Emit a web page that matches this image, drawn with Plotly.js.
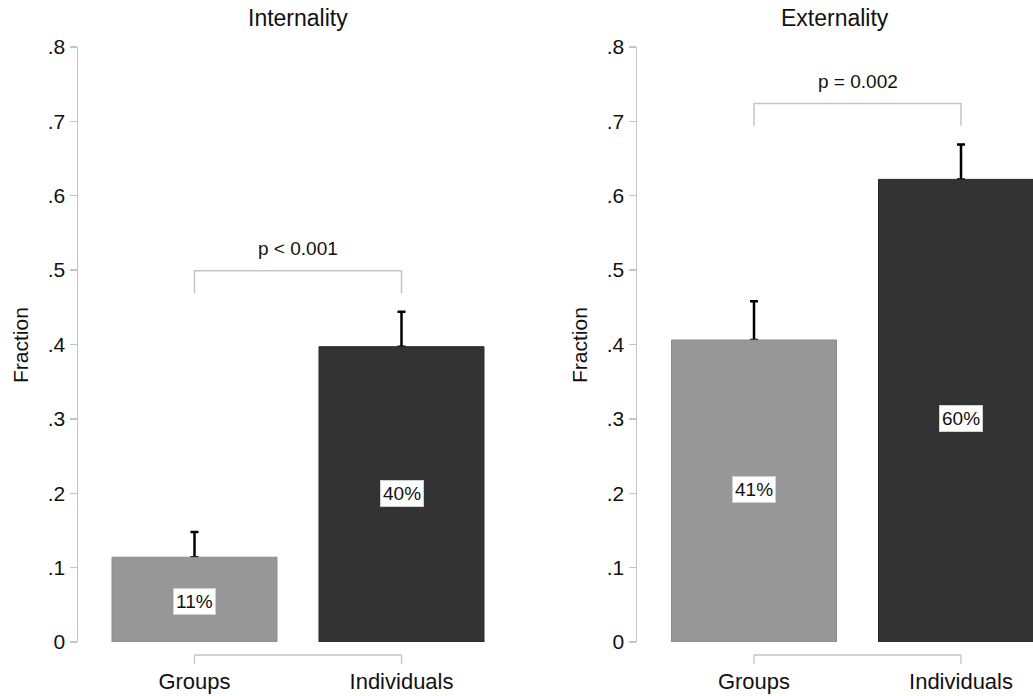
<!DOCTYPE html>
<html>
<head>
<meta charset="utf-8">
<script src="https://cdn.plot.ly/plotly-3.0.1.min.js"></script>
<style>html,body{margin:0;padding:0;background:#fff;}#chart{width:1033px;height:696px;}</style>
</head>
<body>
<div id="chart"></div>
<script>
// ---- data ----
const categories = ["Groups", "Individuals"];
const panelTitles = ["Internality", "Externality"];
const internalityValues = [0.114, 0.397];
const internalityErrors = [0.034, 0.047];
const internalityLabels = [11, 40];
const externalityValues = [0.406, 0.622];
const externalityErrors = [0.052, 0.047];
const externalityLabels = [41, 60];
const pValueTexts = ["p < 0.001", "p = 0.002"];
const yTickValues = [0, 0.1, 0.2, 0.3, 0.4, 0.5, 0.6, 0.7, 0.8];
const yTickLabels = ["0", ".1", ".2", ".3", ".4", ".5", ".6", ".7", ".8"];
const yTitle = "Fraction";

// ---- style ----
const FONT = "Liberation Sans, Arial, sans-serif";
const barColors = ["#979797", "#333333"];
const barLines = ["#8a8a8a", "#262626"];
const axisGray = "#c4c4c4";
const textColor = "#111111";
const idx = categories.map((c, i) => i);

const panels = [
  {vals: internalityValues, errs: internalityErrors, labs: internalityLabels, xa: "x", ya: "y"},
  {vals: externalityValues, errs: externalityErrors, labs: externalityLabels, xa: "x2", ya: "y2"}
];

const traces = [];
panels.forEach(p => {
  // error bars (drawn first, so the real bars hide the lower cap)
  traces.push({
    type: "bar", x: idx, y: p.vals, xaxis: p.xa, yaxis: p.ya, width: 0.797,
    marker: {color: "rgba(0,0,0,0)", line: {width: 0}},
    error_y: {type: "data", symmetric: false, array: p.errs, arrayminus: p.vals.map(() => 0),
              color: "#000", thickness: 2.5, width: 4},
    hoverinfo: "skip", showlegend: false
  });
  traces.push({
    type: "bar", x: idx, y: p.vals, xaxis: p.xa, yaxis: p.ya, width: 0.797,
    marker: {color: barColors, line: {color: barLines, width: 1}},
    showlegend: false, hoverinfo: "y"
  });
});

const yDomain = [(696 - 642) / 696, (696 - 47) / 696];
function yaxisDef(anchor) {
  return {
    domain: yDomain, range: [0, 0.8], anchor: anchor,
    tickvals: yTickValues, ticktext: yTickLabels,
    ticks: "outside", ticklen: 7, tickwidth: 1.3, tickcolor: axisGray,
    showline: true, linecolor: axisGray, linewidth: 1.5,
    showgrid: false, zeroline: false,
    tickfont: {family: FONT, size: 21, color: textColor}
  };
}
function xaxisDef(domain, range, anchor) {
  return {
    domain: domain, range: range, anchor: anchor,
    tickvals: idx, ticktext: categories,
    ticks: "", showline: false, showgrid: false, zeroline: false,
    ticklabelstandoff: 24,
    tickfont: {family: FONT, size: 22, color: textColor}
  };
}

const shapes = [];
const annotations = [];
const xlineY = (696 - 655) / 696;
const xtickY = (696 - 664) / 696;
panels.forEach((p, k) => {
  const xr = k === 0 ? "x" : "x2";
  const yr = k === 0 ? "y" : "y2";
  // Stata-style x axis spanning the categories
  shapes.push({type: "line", xref: xr, yref: "paper", x0: idx[0], x1: idx[idx.length - 1], y0: xlineY, y1: xlineY,
               line: {color: axisGray, width: 1.5}});
  idx.forEach(i => shapes.push({type: "line", xref: xr, yref: "paper", x0: i, x1: i, y0: xlineY, y1: xtickY,
               line: {color: axisGray, width: 1.3}}));
  // significance bracket
  const tops = p.vals.map((v, i) => v + p.errs[i]);
  const by = Math.max(...tops) + 0.055;
  shapes.push({type: "path", xref: xr, yref: yr,
    path: `M ${idx[0]},${by - 0.03} L ${idx[0]},${by} L ${idx[1]},${by} L ${idx[1]},${by - 0.03}`,
    line: {color: axisGray, width: 1.5}});
  annotations.push({xref: xr, yref: yr, x: (idx[0] + idx[1]) / 2, y: by + 0.03, text: pValueTexts[k],
    showarrow: false, yanchor: "middle", font: {family: FONT, size: 19, color: textColor}});
  // value labels
  p.labs.forEach((l, i) => annotations.push({
    xref: xr, yref: yr, x: idx[i], y: l / 200, text: l + "%", showarrow: false, yanchor: "middle",
    bgcolor: "#ffffff", bordercolor: "#d0d0d0", borderwidth: 1, borderpad: 2,
    font: {family: FONT, size: 19, color: textColor}
  }));
  // panel title
  annotations.push({xref: xr + " domain", yref: "paper", x: 0.5, y: (696 - 18) / 696, text: panelTitles[k],
    showarrow: false, yanchor: "middle", font: {family: FONT, size: 23, color: textColor}});
});
// y titles
annotations.push({xref: "paper", yref: "paper", x: 20 / 1033, y: (696 - 345) / 696, text: yTitle, textangle: -90,
  showarrow: false, xanchor: "center", yanchor: "middle", font: {family: FONT, size: 21, color: textColor}});
annotations.push({xref: "paper", yref: "paper", x: 579 / 1033, y: (696 - 345) / 696, text: yTitle, textangle: -90,
  showarrow: false, xanchor: "center", yanchor: "middle", font: {family: FONT, size: 21, color: textColor}});

const layout = {
  width: 1033, height: 696,
  margin: {l: 0, r: 0, t: 0, b: 0},
  paper_bgcolor: "#ffffff", plot_bgcolor: "#ffffff",
  barmode: "overlay",
  showlegend: false,
  xaxis: xaxisDef([78 / 1033, 518 / 1033], [-0.5628, 1.5628], "y"),
  yaxis: yaxisDef("x"),
  xaxis2: xaxisDef([637 / 1033, 1], [-0.5652, 1.3478], "y2"),
  yaxis2: yaxisDef("x2"),
  shapes: shapes,
  annotations: annotations
};

Plotly.newPlot("chart", traces, layout, {displayModeBar: false, staticPlot: true});
</script>
</body>
</html>
